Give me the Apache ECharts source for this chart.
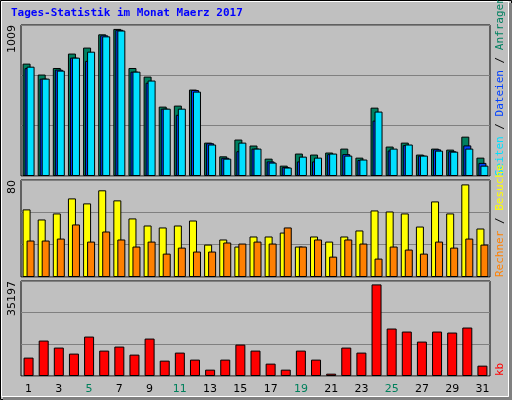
<!DOCTYPE html>
<html><head><meta charset="utf-8">
<script src="https://cdn.jsdelivr.net/npm/echarts@6/dist/echarts.min.js"></script>
<style>html,body{margin:0;padding:0;background:#c0c0c0}#c{width:512px;height:400px}</style>
</head><body><div id="c"></div>
<script>
const days = ['1','2','3','4','5','6','7','8','9','10','11','12','13','14','15','16','17','18','19','20','21','22','23','24','25','26','27','28','29','30','31'];
const weekend = ['4','5','11','12','18','19','25','26'];
const hits  = [771,696,741,840,881,972,1009,741,682,476,483,593,229,135,250,209,119,71,154,147,161,188,126,469,202,229,147,188,181,270,126];
const files = [740,668,730,812,790,965,1003,716,640,462,420,590,225,125,170,188,100,61,100,100,150,150,110,380,175,212,140,183,170,210,90];
const pages = [750,668,723,812,853,958,998,716,655,462,462,579,216,119,229,188,92,58,133,126,154,140,113,442,188,216,140,174,167,188,71];
const visits = [58.4,49.7,54.9,67.9,63.6,74.9,66.2,50.6,44.5,42.8,44.5,48.8,28,32.4,26.3,35,35,38.4,26.3,35,30.6,35,40.2,57.5,56.6,54.9,43.6,65.3,54.9,80,41.9];
const sites  = [31.5,31.5,33.2,45.4,30.6,39.3,32.4,26.3,30.6,20.2,25.4,22,22,29.8,28.9,30.6,28.9,42.8,26.3,32.4,17.6,32.4,28.9,15.9,26.3,23.7,20.2,30.6,25.4,33.2,28];
const kb = [7062,13610,10914,8603,15151,9758,11299,8218,14381,5906,8988,6292,2440,6292,12070,9758,4751,2440,9758,6292,899,10914,8988,35197,18233,17077,13225,17077,16692,18618,3980];
const maxLabels = ['1009','80','35197'];

const chart = echarts.init(document.getElementById('c'));
const L = 21, R = 22;
const grids = [{top:25,height:151},{top:180,height:97},{top:281,height:95}];
const maxes = [1036, 83.8, 36500];
const bs = {borderColor:'#000',borderWidth:1};
function xa(i){return {type:'category',gridIndex:i,data:days,axisLine:{show:false},axisTick:{show:false},
  axisLabel:{show:i===2,margin:8,fontFamily:'DejaVu Sans',fontSize:11,
    color:(v)=>weekend.includes(v)?'#00805c':'#000'}};}
function ya(i){return {type:'value',gridIndex:i,min:0,max:maxes[i],interval:maxes[i]/3,axisLabel:{show:false},
  axisLine:{show:false},axisTick:{show:false},splitLine:{lineStyle:{color:'#808080',width:1}}};}
const vtext = (x,y,rich,txt)=>({type:'text',x,y,rotation:Math.PI/2,style:{text:txt,rich,font:'11px DejaVu Sans Mono',fill:'#000',align:'left',verticalAlign:'middle'}});
chart.setOption({
  animation:false,
  backgroundColor:'#c0c0c0',
  title:{text:'Tages-Statistik im Monat Maerz 2017',left:6,top:3,textStyle:{color:'#0000ff',fontFamily:'DejaVu Sans Mono',fontWeight:'bold',fontSize:11}},
  grid:grids.map(g=>({left:L,right:R,top:g.top,height:g.height,show:true,backgroundColor:'#c0c0c0',borderColor:'#000',borderWidth:1})),
  xAxis:[xa(0),xa(1),xa(2)],
  yAxis:[ya(0),ya(1),ya(2)],
  series:[
    {type:'bar',xAxisIndex:0,yAxisIndex:0,data:hits,barWidth:8,barGap:'-75%',itemStyle:{color:'#008060',...bs}},
    {type:'bar',xAxisIndex:0,yAxisIndex:0,data:files,barWidth:8,barGap:'-75%',itemStyle:{color:'#0040ff',...bs}},
    {type:'bar',xAxisIndex:0,yAxisIndex:0,data:pages,barWidth:8,barGap:'-75%',itemStyle:{color:'#00e0ff',...bs}},
    {type:'bar',xAxisIndex:1,yAxisIndex:1,data:visits,barWidth:8,barGap:'-50%',itemStyle:{color:'#ffff00',...bs}},
    {type:'bar',xAxisIndex:1,yAxisIndex:1,data:sites,barWidth:8,barGap:'-50%',itemStyle:{color:'#ff8000',...bs}},
    {type:'bar',xAxisIndex:2,yAxisIndex:2,data:kb,barWidth:10,itemStyle:{color:'#ff0000',...bs}}
  ],
  graphic:[
    {type:'rect',shape:{x:0.5,y:0.5,width:511,height:399},style:{fill:'none',stroke:'#000',lineWidth:1}},
    {type:'rect',shape:{x:1.5,y:1.5,width:507,height:395},style:{fill:'none',stroke:'#fff',lineWidth:1}},
    {type:'rect',shape:{x:3,y:397,width:509,height:3},style:{fill:'#808080'}},
    {type:'rect',shape:{x:509,y:3,width:3,height:397},style:{fill:'#808080'}},
    {type:'text',x:12,y:25,rotation:Math.PI/2,style:{text:maxLabels[0],font:'11px DejaVu Sans',fill:'#000',align:'right',verticalAlign:'middle'}},
    {type:'text',x:12,y:180,rotation:Math.PI/2,style:{text:maxLabels[1],font:'11px DejaVu Sans',fill:'#000',align:'right',verticalAlign:'middle'}},
    {type:'text',x:12,y:281,rotation:Math.PI/2,style:{text:maxLabels[2],font:'11px DejaVu Sans',fill:'#000',align:'right',verticalAlign:'middle'}},
    {type:'text',x:500,y:176,rotation:Math.PI/2,style:{text:'{a|Seiten} / {b|Dateien} / {c|Anfragen}',
      rich:{a:{fill:'#00e0ff',font:'11px DejaVu Sans Mono'},b:{fill:'#0040ff',font:'11px DejaVu Sans Mono'},c:{fill:'#008060',font:'11px DejaVu Sans Mono'}},
      font:'11px DejaVu Sans Mono',fill:'#000',align:'left',verticalAlign:'middle'}},
    {type:'text',x:500,y:277,rotation:Math.PI/2,style:{text:'{a|Rechner} / {b|Besuche}',
      rich:{a:{fill:'#ff8000',font:'11px DejaVu Sans Mono'},b:{fill:'#ffff00',font:'11px DejaVu Sans Mono'}},
      font:'11px DejaVu Sans Mono',fill:'#000',align:'left',verticalAlign:'middle'}},
    {type:'text',x:500,y:376,rotation:Math.PI/2,style:{text:'kb',font:'11px DejaVu Sans Mono',fill:'#ff0000',align:'left',verticalAlign:'middle'}}
  ]
});
</script></body></html>
